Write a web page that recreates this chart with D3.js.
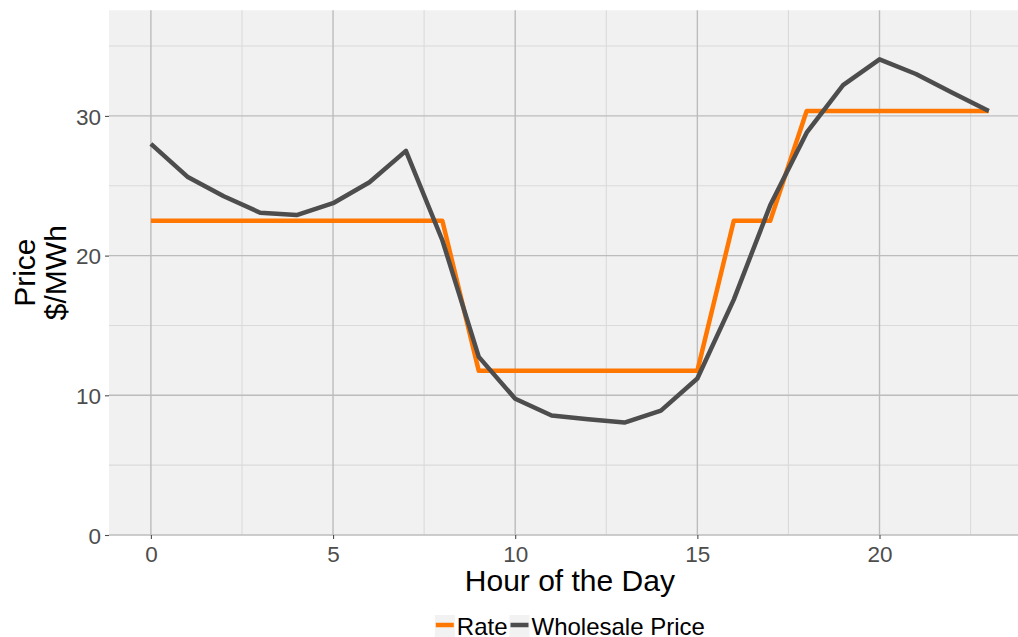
<!DOCTYPE html>
<html>
<head>
<meta charset="utf-8">
<script src="https://cdn.jsdelivr.net/npm/d3@7"></script>
<style>
  html, body { margin: 0; padding: 0; background: #ffffff; }
  svg { display: block; }
  text { font-family: "Liberation Sans", Arial, sans-serif; }
</style>
</head>
<body>
<svg id="chart" width="1018" height="637"></svg>
<script>
// ---- data ----
const hours = [0,1,2,3,4,5,6,7,8,9,10,11,12,13,14,15,16,17,18,19,20,21,22,23];
const rate = [22.5,22.5,22.5,22.5,22.5,22.5,22.5,22.5,22.5,11.75,11.75,11.75,11.75,11.75,11.75,11.75,22.5,22.5,30.35,30.35,30.35,30.35,30.35,30.35];
const wholesale = [28.0,25.65,24.25,23.07,22.9,23.75,25.25,27.5,21.1,12.75,9.75,8.55,8.28,8.05,8.9,11.2,16.85,23.6,28.8,32.2,34.05,33.0,31.65,30.35];
const xTicks = [0,5,10,15,20];
const xMinor = [2.5,7.5,12.5,17.5,22.5];
const yTicks = [0,10,20,30];
const yMinor = [5,15,25,35];
const seriesNames = ["Rate","Wholesale Price"];
const seriesColors = ["#ff7700","#4d4d4d"];

// ---- layout ----
const svg = d3.select("#chart");
const panel = {left: 109, top: 10.3, right: 1030.7, bottom: 535};
const x = d3.scaleLinear().domain([-1.15, 24.15]).range([panel.left, panel.right]);
const y = d3.scaleLinear().domain([0, 37.56]).range([panel.bottom, panel.top]);

// panel background
svg.append("rect")
  .attr("x", panel.left).attr("y", panel.top)
  .attr("width", panel.right - panel.left).attr("height", panel.bottom - panel.top)
  .attr("fill", "#f1f1f1");

const grid = svg.append("g");
// minor grid
grid.selectAll(".xm").data(xMinor).join("line")
  .attr("x1", d => x(d)).attr("x2", d => x(d))
  .attr("y1", panel.top).attr("y2", panel.bottom)
  .attr("stroke", "#dadada").attr("stroke-width", 1.1);
grid.selectAll(".ym").data(yMinor).join("line")
  .attr("y1", d => y(d)).attr("y2", d => y(d))
  .attr("x1", panel.left).attr("x2", panel.right)
  .attr("stroke", "#dadada").attr("stroke-width", 1.1);
// major grid
grid.selectAll(".xM").data(xTicks).join("line")
  .attr("x1", d => x(d)).attr("x2", d => x(d))
  .attr("y1", panel.top).attr("y2", panel.bottom)
  .attr("stroke", "#bcbcbc").attr("stroke-width", 1.4);
grid.selectAll(".yM").data(yTicks).join("line")
  .attr("y1", d => y(d)).attr("y2", d => y(d))
  .attr("x1", panel.left).attr("x2", panel.right)
  .attr("stroke", "#bcbcbc").attr("stroke-width", 1.4);

// axes
const xAxis = svg.append("g")
  .attr("transform", `translate(0,${panel.bottom})`)
  .call(d3.axisBottom(x).tickValues(xTicks).tickSize(4).tickPadding(7).tickFormat(d3.format("d")));
const yAxis = svg.append("g")
  .attr("transform", `translate(${panel.left},0)`)
  .call(d3.axisLeft(y).tickValues(yTicks).tickSize(4).tickPadding(4).tickFormat(d3.format("d")));
[xAxis, yAxis].forEach(a => {
  a.select(".domain").remove();
  a.selectAll(".tick line").attr("stroke", "#4d4d4d").attr("stroke-width", 1.1);
  a.selectAll(".tick text")
    .attr("fill", "#4d4d4d")
    .style("font-size", "22.5px")
    .style("font-family", '"Liberation Sans", Arial, sans-serif');
});
yAxis.selectAll(".tick text").attr("dy", "0.36em");

// lines
const rows = hours.map((h, i) => ({h, rate: rate[i], wholesale: wholesale[i]}));
const lineRate = d3.line().x(d => x(d.h)).y(d => y(d.rate));
const lineWh = d3.line().x(d => x(d.h)).y(d => y(d.wholesale));
svg.append("path").datum(rows)
  .attr("d", lineRate).attr("fill", "none")
  .attr("stroke", seriesColors[0]).attr("stroke-width", 4.5)
  .attr("stroke-linejoin", "round");
svg.append("path").datum(rows)
  .attr("d", lineWh).attr("fill", "none")
  .attr("stroke", seriesColors[1]).attr("stroke-width", 4.5)
  .attr("stroke-linejoin", "round");

// axis titles
const cx = (panel.left + panel.right) / 2;
svg.append("text")
  .attr("x", cx).attr("y", 591)
  .attr("text-anchor", "middle")
  .style("font-size", "30px").attr("fill", "#000")
  .text("Hour of the Day");

const cy = (panel.top + panel.bottom) / 2;
const yt = svg.append("text")
  .attr("transform", `translate(0,${cy}) rotate(-90)`)
  .attr("text-anchor", "middle")
  .style("font-size", "30px").attr("fill", "#000");
yt.append("tspan").attr("x", 0).attr("y", 35).text("Price");
yt.append("tspan").attr("x", 0).attr("y", 66).text("$/MWh");

// legend
const leg = svg.append("g");
const keyW = 20, keyH = 26, gap = 2;
let cursor = 0;
const items = [];
seriesNames.forEach((name, i) => {
  const g = leg.append("g").attr("transform", `translate(${cursor},0)`);
  g.append("rect").attr("x", 0).attr("y", 615).attr("width", keyW).attr("height", keyH).attr("fill", "#f2f2f2");
  g.append("line").attr("x1", 1).attr("x2", keyW - 1).attr("y1", 625).attr("y2", 625)
    .attr("stroke", seriesColors[i]).attr("stroke-width", 4.5);
  const t = g.append("text").attr("x", keyW + 2).attr("y", 635)
    .style("font-size", "24px").attr("fill", "#000").text(name);
  const w = t.node().getComputedTextLength();
  cursor += keyW + 2 + w + gap;
});
const total = cursor - gap;
leg.attr("transform", `translate(${cx - total / 2},0)`);
</script>
</body>
</html>
